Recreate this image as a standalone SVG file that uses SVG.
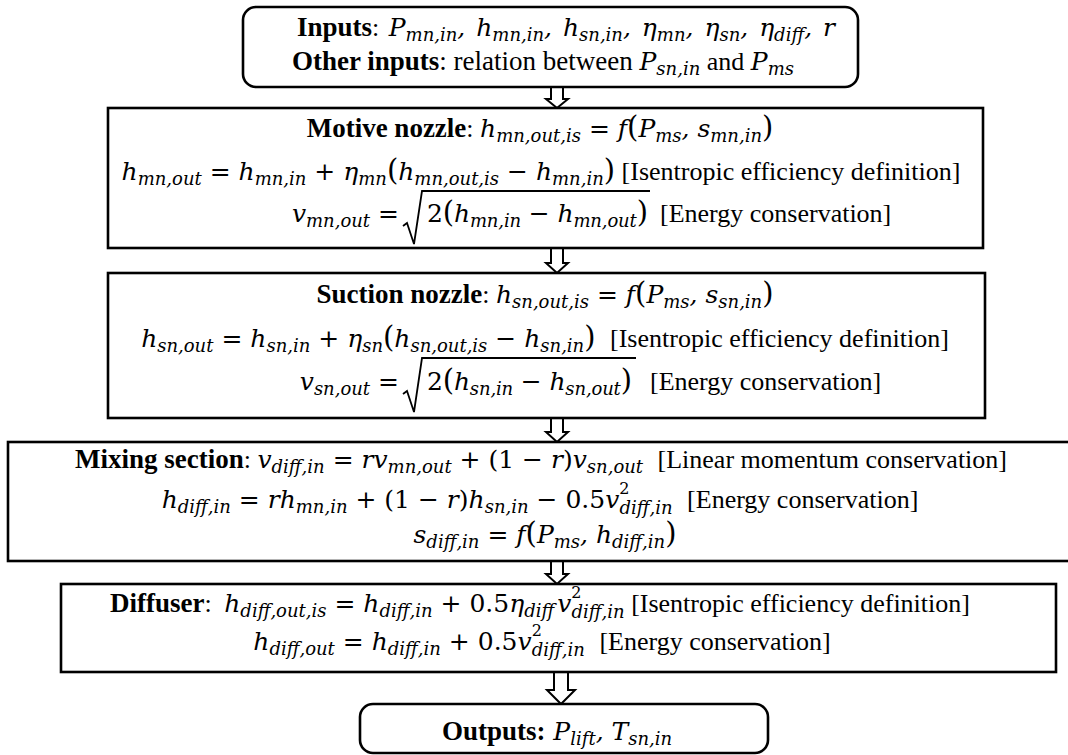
<svg xmlns="http://www.w3.org/2000/svg" width="1068" height="755" viewBox="0 0 1068 755">
<style>
text{font-family:"DejaVu Serif",serif;font-size:25px;fill:#000}
.c{text-anchor:middle}
.e{text-anchor:end}
.b{font-family:"Liberation Serif",serif;font-weight:bold;font-size:27px}
.m{font-style:italic}
.s{font-style:italic;font-size:18px}
.n{font-size:16px}
.t{font-family:"Liberation Serif",serif;font-size:26px;font-style:normal}
.t2{font-family:"Liberation Serif",serif;font-size:27px;font-style:normal}
.p{font-size:29px}
.box{fill:#fff;stroke:#000;stroke-width:2.6}
.arr{fill:#fff;stroke:#000;stroke-width:2}
.rad{fill:none;stroke:#000;stroke-width:1.8}
</style>
<rect width="1068" height="755" fill="#fff"/>
<g id="connectors">
<path class="arr" d="M551,87 V99 H546 L557,108 L568,99 H563 V87"/>
<path class="arr" d="M551,248 V263 H546 L557,273 L568,263 H563 V248"/>
<path class="arr" d="M551,418 V432 H546 L557,442 L568,432 H563 V418"/>
<path class="arr" d="M551,561 V574 H546 L557,584 L568,574 H563 V561"/>
<path class="arr" d="M554,672 V690 H547 L561,704 L575,690 H568 V672"/>
</g>
<g id="inputs">
<rect class="box" x="243" y="7" width="615" height="80" rx="13"/>
<text class="c" x="566" y="36" word-spacing="3"><tspan class="b">Inputs</tspan><tspan class="t">: </tspan><tspan class="m">P</tspan><tspan class="s" dy="5">mn,in</tspan><tspan class="m" dy="-5">, h</tspan><tspan class="s" dy="5">mn,in</tspan><tspan class="m" dy="-5">, h</tspan><tspan class="s" dy="5">sn,in</tspan><tspan class="m" dy="-5">, η</tspan><tspan class="s" dy="5">mn</tspan><tspan class="m" dy="-5">, η</tspan><tspan class="s" dy="5">sn</tspan><tspan class="m" dy="-5">, η</tspan><tspan class="s" dy="5">diff</tspan><tspan class="m" dy="-5">, r</tspan></text>
<text class="c" x="543" y="70"><tspan class="b">Other inputs</tspan><tspan class="t2">: relation between </tspan><tspan class="m">P</tspan><tspan class="s" dy="5">sn,in</tspan><tspan class="t" dy="-5"> and </tspan><tspan class="m">P</tspan><tspan class="s" dy="5">ms</tspan></text>
</g>
<g id="motive-nozzle">
<rect class="box" x="108" y="108" width="875" height="140"/>
<text class="c" x="540" y="137"><tspan class="b">Motive nozzle</tspan><tspan class="t">: </tspan><tspan class="m">h</tspan><tspan class="s" dy="5">mn,out,is</tspan><tspan dy="-5"> = </tspan><tspan class="m">f</tspan><tspan class="p">(</tspan><tspan class="m">P</tspan><tspan class="s" dy="5">ms</tspan><tspan class="m" dy="-5">, s</tspan><tspan class="s" dy="5">mn,in</tspan><tspan class="p" dy="-5">)</tspan></text>
<text class="c" x="541" y="180"><tspan class="m">h</tspan><tspan class="s" dy="5">mn,out</tspan><tspan dy="-5"> = </tspan><tspan class="m">h</tspan><tspan class="s" dy="5">mn,in</tspan><tspan dy="-5"> + </tspan><tspan class="m">η</tspan><tspan class="s" dy="5">mn</tspan><tspan class="p" dy="-5">(</tspan><tspan class="m">h</tspan><tspan class="s" dy="5">mn,out,is</tspan><tspan dy="-5"> − </tspan><tspan class="m">h</tspan><tspan class="s" dy="5">mn,in</tspan><tspan class="p" dy="-5">)</tspan><tspan class="t"> [Isentropic efficiency definition]</tspan></text>
<text class="e" x="399" y="222"><tspan class="m">v</tspan><tspan class="s" dy="5">mn,out</tspan><tspan dy="-5"> =</tspan></text>
<path class="rad" d="M403,226 L407,223 L414,244 L422,191 H650"/>
<text x="427" y="222" textLength="221" lengthAdjust="spacing">2<tspan class="p">(</tspan><tspan class="m">h</tspan><tspan class="s" dy="5">mn,in</tspan><tspan dy="-5"> − </tspan><tspan class="m">h</tspan><tspan class="s" dy="5">mn,out</tspan><tspan class="p" dy="-5">)</tspan></text>
<text class="t" x="660" y="222">[Energy conservation]</text>
</g>
<g id="suction-nozzle">
<rect class="box" x="108" y="273" width="877" height="145"/>
<text class="c" x="545" y="303"><tspan class="b">Suction nozzle</tspan><tspan class="t">: </tspan><tspan class="m">h</tspan><tspan class="s" dy="5">sn,out,is</tspan><tspan dy="-5"> = </tspan><tspan class="m">f</tspan><tspan class="p">(</tspan><tspan class="m">P</tspan><tspan class="s" dy="5">ms</tspan><tspan class="m" dy="-5">, s</tspan><tspan class="s" dy="5">sn,in</tspan><tspan class="p" dy="-5">)</tspan></text>
<text class="c" x="545" y="347"><tspan class="m">h</tspan><tspan class="s" dy="5">sn,out</tspan><tspan dy="-5"> = </tspan><tspan class="m">h</tspan><tspan class="s" dy="5">sn,in</tspan><tspan dy="-5"> + </tspan><tspan class="m">η</tspan><tspan class="s" dy="5">sn</tspan><tspan class="p" dy="-5">(</tspan><tspan class="m">h</tspan><tspan class="s" dy="5">sn,out,is</tspan><tspan dy="-5"> − </tspan><tspan class="m">h</tspan><tspan class="s" dy="5">sn,in</tspan><tspan class="p" dy="-5">)</tspan><tspan class="t" dx="8"> [Isentropic efficiency definition]</tspan></text>
<text class="e" x="399" y="390"><tspan class="m">v</tspan><tspan class="s" dy="5">sn,out</tspan><tspan dy="-5"> =</tspan></text>
<path class="rad" d="M403,394 L407,391 L414,412 L422,358 H636"/>
<text x="427" y="390" textLength="205" lengthAdjust="spacing">2<tspan class="p">(</tspan><tspan class="m">h</tspan><tspan class="s" dy="5">sn,in</tspan><tspan dy="-5"> − </tspan><tspan class="m">h</tspan><tspan class="s" dy="5">sn,out</tspan><tspan class="p" dy="-5">)</tspan></text>
<text class="t" x="650" y="390">[Energy conservation]</text>
</g>
<g id="mixing-section">
<rect class="box" x="8" y="442" width="1075" height="119"/>
<text class="c" x="541" y="468"><tspan class="b">Mixing section</tspan><tspan class="t">: </tspan><tspan class="m">v</tspan><tspan class="s" dy="5">diff,in</tspan><tspan dy="-5"> = </tspan><tspan class="m">rv</tspan><tspan class="s" dy="5">mn,out</tspan><tspan dy="-5"> + (1 − </tspan><tspan class="m">r</tspan><tspan>)</tspan><tspan class="m">v</tspan><tspan class="s" dy="5">sn,out</tspan><tspan class="t" dy="-5" dx="8"> [Linear momentum conservation]</tspan></text>
<text class="c" x="540" y="508"><tspan class="m">h</tspan><tspan class="s" dy="5">diff,in</tspan><tspan dy="-5"> = </tspan><tspan class="m">rh</tspan><tspan class="s" dy="5">mn,in</tspan><tspan dy="-5"> + (1 − </tspan><tspan class="m">r</tspan><tspan>)</tspan><tspan class="m">h</tspan><tspan class="s" dy="5">sn,in</tspan><tspan dy="-5"> − 0.5</tspan><tspan class="m">v</tspan><tspan class="n" dy="-14">2</tspan><tspan class="s" dx="-10" dy="20">diff,in</tspan><tspan class="t" dy="-6" dx="8"> [Energy conservation]</tspan></text>
<text class="c" x="545" y="543"><tspan class="m">s</tspan><tspan class="s" dy="5">diff,in</tspan><tspan dy="-5"> = </tspan><tspan class="m">f</tspan><tspan class="p">(</tspan><tspan class="m">P</tspan><tspan class="s" dy="5">ms</tspan><tspan class="m" dy="-5">, h</tspan><tspan class="s" dy="5">diff,in</tspan><tspan class="p" dy="-5">)</tspan></text>
</g>
<g id="diffuser">
<rect class="box" x="61" y="584" width="995" height="88"/>
<text class="c" x="540" y="612"><tspan class="b">Diffuser</tspan><tspan class="t">: </tspan><tspan class="m" dx="6">h</tspan><tspan class="s" dy="5">diff,out,is</tspan><tspan dy="-5"> = </tspan><tspan class="m">h</tspan><tspan class="s" dy="5">diff,in</tspan><tspan dy="-5"> + 0.5</tspan><tspan class="m">η</tspan><tspan class="s" dy="5">diff</tspan><tspan class="m" dy="-5" dx="3">v</tspan><tspan class="n" dy="-14">2</tspan><tspan class="s" dx="-10" dy="20">diff,in</tspan><tspan class="t" dy="-6"> [Isentropic efficiency definition]</tspan></text>
<text class="c" x="542" y="650"><tspan class="m">h</tspan><tspan class="s" dy="5">diff,out</tspan><tspan dy="-5"> = </tspan><tspan class="m">h</tspan><tspan class="s" dy="5">diff,in</tspan><tspan dy="-5"> + 0.5</tspan><tspan class="m">v</tspan><tspan class="n" dy="-14">2</tspan><tspan class="s" dx="-10" dy="20">diff,in</tspan><tspan class="t" dy="-6" dx="8"> [Energy conservation]</tspan></text>
</g>
<g id="outputs">
<rect class="box" x="360" y="704" width="408" height="49" rx="13"/>
<text class="c" x="557" y="740"><tspan class="b">Outputs:</tspan><tspan class="m"> P</tspan><tspan class="s" dy="5">lift</tspan><tspan class="m" dy="-5">, T</tspan><tspan class="s" dy="5">sn,in</tspan></text>
</g>
</svg>
